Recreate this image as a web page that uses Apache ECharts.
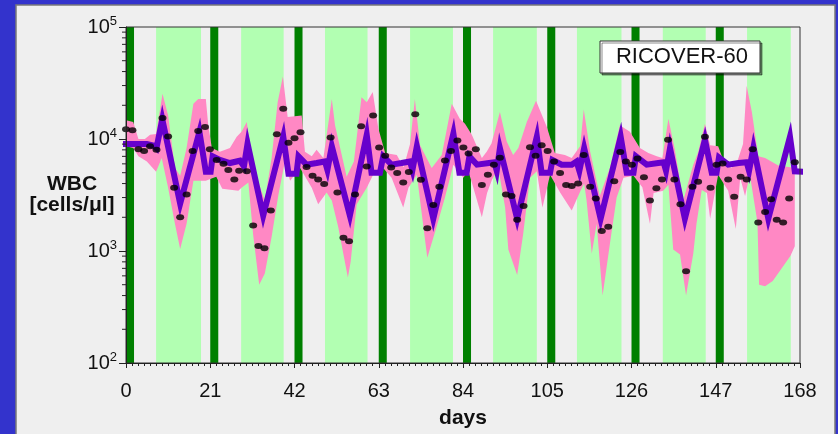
<!DOCTYPE html>
<html>
<head>
<meta charset="utf-8">
<script src="https://cdn.jsdelivr.net/npm/echarts@6.0.0/dist/echarts.min.js"></script>
<style>
  html, body { margin: 0; padding: 0; background: #3333cc; }
  #main { width: 838px; height: 434px; }
</style>
</head>
<body>
<div id="main"></div>
<script>
// therapy cycles (days)
var darkBands = [[0, 2], [21, 23], [42, 44], [63, 65], [84, 86], [105, 107], [126, 128], [147, 149]];
var lightBands = [[7.5, 18.7], [28.7, 39.3], [49.6, 60.2], [70.8, 81.5], [91.5, 102.4], [112.4, 123.5], [133.8, 144.5], [154.8, 165.7]];

// measured WBC [day, cells/ul]
var wbcPoints = [
    [0, 12200], [1.6, 12000], [3.1, 8100], [4.5, 7800], [6.0, 8600], [7.6, 8000], [9.1, 15400], [10.5, 10550],
    [12.0, 3680], [13.5, 2000], [15.1, 3200], [16.6, 7800], [18.0, 11800], [19.7, 12800], [20.9, 8100], [22.6, 6500],
    [24.3, 6000], [25.5, 5300], [27.0, 4350], [28.2, 5200],
    [30.1, 5150], [31.7, 1690], [33.0, 1110], [34.5, 1060], [36.1, 2300], [37.6, 11000], [39.2, 18600], [40.5, 9240],
    [42.0, 10140], [43.5, 11500], [45.0, 5630], [46.5, 4700], [47.9, 4350], [49.4, 3970], [51.0, 10300], [52.7, 3330],
    [54.2, 1310], [55.6, 1220],
    [57.1, 3200], [58.6, 13000], [60.0, 5680], [61.6, 16200], [63.1, 8400], [64.6, 7100], [66.1, 5570], [67.6, 4970],
    [69.1, 4090], [70.5, 5080], [72.1, 16600], [73.5, 4330], [75.1, 1600], [76.6, 2580], [78.1, 3750], [79.5, 6440],
    [81.0, 7800], [82.6, 9700], [84.1, 8400], [85.4, 7420],
    [87.2, 8100], [88.7, 3890], [90.2, 4800], [91.7, 5900], [93.2, 6800], [94.7, 3200], [96.1, 3100], [97.5, 1900],
    [99.1, 2520], [100.7, 8450], [102.1, 7100], [103.6, 8800], [105.1, 7800], [106.7, 6300], [108.2, 4970], [109.7, 3890],
    [111.1, 3800], [112.7, 4010], [114.1, 7200],
    [115.7, 3750], [117.1, 2950], [118.6, 1510], [120.2, 1650], [121.7, 4190], [123.2, 7650], [124.6, 6300], [126.1, 5900],
    [127.5, 6700], [129.1, 4550], [130.6, 2830], [132.2, 3630], [133.6, 4350], [135.1, 9850], [136.7, 4350], [138.2, 2620],
    [139.6, 660], [141.2, 3750], [142.6, 4150],
    [144.3, 10500], [145.7, 3680], [147.2, 5900], [148.7, 6050], [150.1, 4350], [151.6, 3050], [153.2, 4600], [154.7, 4350],
    [156.2, 8100], [157.6, 1800], [159.3, 2230], [160.8, 2900], [162.2, 1900], [163.8, 1800], [165.3, 2950], [166.7, 6200]
];

// model prediction (median)
var modelLine = [
    [-0.8, 9000], [5.2, 9000], [7.0, 8700], [7.6, 8300], [9.05, 15000], [13.5, 2650], [18.3, 11600], [19.9, 5100],
    [21.1, 5100], [21.6, 7000], [23.4, 6500], [25.9, 6100], [28.4, 6400], [29.4, 5700], [30.3, 9100], [34.2, 2070],
    [39.2, 10500], [40.5, 4900], [42.5, 4900], [43.0, 7000], [45.0, 5900], [47.5, 6100], [49.6, 6300], [50.2, 5300],
    [51.3, 8600], [55.8, 2070], [60.0, 10900], [61.2, 5000], [63.3, 5000], [64.1, 7000], [66.2, 5900], [68.7, 6100],
    [70.8, 6300], [71.4, 5300], [72.5, 8600], [76.6, 1940], [81.6, 11200], [83.1, 5000], [84.9, 5000], [85.6, 7000],
    [87.5, 5900], [90.5, 6100], [91.8, 6200], [92.4, 5200], [93.2, 8300], [97.5, 1940], [102.4, 10500], [103.6, 5000],
    [105.7, 5000], [106.3, 6500], [108.6, 5900], [111.1, 5900], [112.3, 6300], [113.0, 5200], [114.2, 8300], [118.3, 1940],
    [123.3, 10500], [124.8, 5000], [126.5, 5000], [127.1, 7000], [129.8, 5900], [132.7, 6100], [134.0, 6200], [134.6, 5200],
    [135.6, 8300], [139.3, 1940], [144.3, 9850], [146.0, 5000], [147.2, 5000], [147.8, 6850], [150.1, 5900], [152.7, 6100],
    [154.7, 6200], [155.3, 5200], [156.4, 8400], [160.1, 1940], [165.5, 10500], [166.7, 5150], [169.2, 5100]
];

// prediction band upper / lower limits
var bandUpper = [
    [0, 14700], [1.8, 14200], [3.1, 10000], [4.7, 10000], [6.0, 10900], [7.5, 11100], [9.1, 25300], [10.5, 16200],
    [12.2, 5500], [13.5, 4700], [15.1, 8300], [16.8, 20600], [18.0, 22800], [19.9, 22800], [20.5, 13300], [21.4, 8300],
    [23.4, 7700], [25.9, 8300], [27.6, 10500], [28.8, 11600], [30.1, 14200], [30.9, 9100], [32.6, 4500], [34.6, 2830],
    [36.3, 6760], [37.8, 21300], [39.1, 36100], [40.3, 15700], [43.8, 16200], [44.6, 7700], [46.3, 7000], [47.5, 8000],
    [49.2, 6760], [51.3, 22800], [52.1, 13300], [55.0, 4600], [56.8, 6300], [58.7, 23600], [60.0, 21300], [61.5, 26300],
    [62.9, 12400], [64.6, 7500], [67.5, 7200], [69.2, 5600], [70.8, 9000], [72.0, 22800], [73.3, 8800], [76.2, 5500],
    [78.7, 7200], [81.2, 20600], [83.2, 15200], [84.5, 13700], [86.2, 10900], [88.7, 6760], [89.9, 7700], [91.1, 9100],
    [93.2, 17400], [94.9, 9500], [96.5, 7200], [97.8, 8300], [99.9, 14200], [102.2, 22000], [104.9, 12800], [106.9, 7500],
    [109.4, 7200], [111.1, 6760], [113.2, 8600], [114.1, 18300], [115.7, 7700], [118.1, 3100], [120.6, 5500], [123.1, 13300],
    [125.6, 11600], [128.1, 8300], [130.2, 7500], [132.3, 7000], [133.7, 6760], [135.2, 15200], [136.8, 8000], [138.9, 2830],
    [141.4, 5900], [142.6, 7600], [144.3, 13700], [145.6, 8800], [147.6, 8600], [149.0, 6300], [150.9, 5500], [152.5, 6500],
    [153.8, 9000], [154.7, 29900], [156.0, 17400], [157.6, 7000], [159.3, 6760], [162.6, 5800], [166.7, 5500]
];
var bandLower = [
    [0, 8600], [1.8, 8300], [3.1, 7000], [5.2, 6300], [7.5, 5100], [8.9, 6760], [10.5, 3680], [12.2, 1750],
    [13.5, 1040], [15.1, 1750], [16.8, 4230], [19.9, 4230], [21.0, 4400], [22.5, 4600], [24.0, 3600], [28.0, 3450],
    [28.8, 3680], [30.5, 4080], [31.7, 1390], [33.2, 500], [34.6, 630], [36.3, 1340], [38.0, 3200], [39.6, 6300],
    [40.9, 4230], [43.4, 5500], [46.3, 3680], [47.9, 2620], [50.0, 3330], [51.3, 2830], [52.9, 1640], [55.3, 580],
    [56.0, 800], [57.5, 2620], [60.0, 3680], [61.6, 4800], [64.1, 5500], [66.2, 4500], [69.1, 2450], [70.4, 3680],
    [72.5, 4800], [75.1, 870], [77.4, 1640], [79.5, 3000], [81.6, 5900], [84.1, 4500], [85.3, 5200], [86.2, 4080],
    [88.7, 2000], [90.0, 3300], [91.2, 4300], [92.8, 5500], [94.5, 2450], [95.3, 1030], [97.5, 610], [99.0, 1420],
    [100.7, 4500], [102.4, 5150], [103.8, 2450], [105.7, 4800], [108.2, 3330], [111.1, 2300], [113.3, 3450], [114.2, 4000],
    [114.8, 2830], [116.1, 950], [117.3, 1750], [118.8, 400], [120.6, 1150], [122.3, 3000], [124.0, 4500], [126.5, 4700],
    [128.7, 3700], [130.6, 1750], [131.5, 3300], [133.9, 3450], [135.2, 3900], [136.4, 1030], [138.1, 930], [139.6, 400],
    [141.4, 950], [142.2, 1750], [143.5, 3500], [144.8, 3300], [145.6, 1940], [147.6, 4800], [150.1, 3450], [152.0, 1570],
    [153.1, 4500], [154.3, 3100], [155.5, 4800], [157.4, 1800], [157.8, 500], [159.3, 485], [161.2, 540], [163.8, 730],
    [165.6, 900], [166.7, 1100]
];

// axis
var xTicks = [0, 21, 42, 63, 84, 105, 126, 147, 168];
var yRange = [100, 100000];
var yMinorTicks = [200, 300, 400, 500, 600, 700, 800, 900, 2000, 3000, 4000, 5000, 6000, 7000, 8000, 9000,
    20000, 30000, 40000, 50000, 60000, 70000, 80000, 90000];

var FONT = 'Liberation Sans, Arial, sans-serif';

var chart = echarts.init(document.getElementById('main'));

function bandItems(list) {
    return list.map(function (b) { return [b[0], b[1], yRange[0], yRange[1]]; });
}

function renderBand(color) {
    return function (params, api) {
        var p0 = api.coord([api.value(0), api.value(3)]);
        var p1 = api.coord([api.value(1), api.value(2)]);
        return {
            type: 'rect',
            shape: { x: p0[0], y: p0[1], width: p1[0] - p0[0], height: p1[1] - p0[1] },
            style: { fill: color }
        };
    };
}

var option = {
    backgroundColor: '#3333cc',
    animation: false,
    grid: { left: 126, top: 27, right: 38, bottom: 66, show: true, borderColor: '#333', borderWidth: 1, backgroundColor: 'transparent', z: 10 },
    graphic: [
        { type: 'rect', z: -10, shape: { x: 16, y: 5, width: 819, height: 440 }, style: { fill: '#efefef', stroke: '#7a7a7a', lineWidth: 1.5 } },
        { type: 'text', x: 72, y: 184, style: { text: 'WBC', font: 'bold 21px ' + FONT, fill: '#111', textAlign: 'center', textVerticalAlign: 'middle' } },
        { type: 'text', x: 72, y: 205, style: { text: '[cells/μl]', font: 'bold 21px ' + FONT, fill: '#111', textAlign: 'center', textVerticalAlign: 'middle' } },
        { type: 'rect', z: 20, shape: { x: 600, y: 41, width: 160, height: 32 }, style: { fill: '#fff', stroke: '#333', lineWidth: 1, shadowColor: 'rgba(0,0,0,0.45)', shadowOffsetX: 2, shadowOffsetY: 2, shadowBlur: 0 } },
        { type: 'text', z: 21, x: 682, y: 57, style: { text: 'RICOVER-60', font: '22px ' + FONT, fill: '#111', textAlign: 'center', textVerticalAlign: 'middle' } }
    ],
    xAxis: {
        type: 'value', min: xTicks[0], max: xTicks[xTicks.length - 1], interval: 21, z: 10,
        axisLine: { show: true, lineStyle: { color: '#222', width: 1 } },
        axisTick: { show: true, length: 5, lineStyle: { color: '#222' } },
        minorTick: { show: true, splitNumber: 14, length: 3, lineStyle: { color: '#222' } },
        splitLine: { show: false },
        axisLabel: { fontSize: 20, color: '#111', margin: 18, fontFamily: FONT },
        name: 'days', nameLocation: 'middle', nameGap: 45,
        nameTextStyle: { fontSize: 21, fontWeight: 'bold', color: '#111', fontFamily: FONT }
    },
    yAxis: {
        type: 'log', logBase: 10, min: yRange[0], max: yRange[1], z: 10,
        axisLine: { show: true, lineStyle: { color: '#222', width: 1 } },
        axisTick: { show: true, length: 7, lineStyle: { color: '#222' } },
        splitLine: { show: false },
        axisLabel: {
            margin: 9, color: '#111', fontFamily: FONT,
            formatter: function (v) { return '{b|10}{s|' + Math.round(Math.log10(v)) + '}'; },
            rich: {
                b: { fontSize: 20, fontFamily: FONT, color: '#111' },
                s: { fontSize: 13, fontFamily: FONT, color: '#111', padding: [0, 0, 11, 0] }
            }
        }
    },
    series: [
        { type: 'custom', z: 1, clip: true, silent: true, data: bandItems(lightBands), encode: { x: [0, 1], y: [2, 3] }, renderItem: renderBand('#b2ffb2') },
        { type: 'custom', z: 1, clip: true, silent: true, data: bandItems(darkBands), encode: { x: [0, 1], y: [2, 3] }, renderItem: renderBand('#008000') },
        {
            type: 'custom', z: 2, clip: true, silent: true, data: bandUpper,
            renderItem: function (params, api) {
                if (params.dataIndex !== 0) return;
                var pts = [];
                bandUpper.forEach(function (p) { pts.push(api.coord(p)); });
                for (var i = bandLower.length - 1; i >= 0; i--) pts.push(api.coord(bandLower[i]));
                return { type: 'polygon', shape: { points: pts }, style: { fill: '#ff88c4' } };
            }
        },
        {
            type: 'line', z: 3, data: modelLine, showSymbol: false, clip: false, silent: true,
            lineStyle: { color: '#6600cc', width: 6, join: 'miter' }
        },
        {
            type: 'scatter', z: 4, data: wbcPoints, symbol: 'circle', symbolSize: [8, 6], silent: true,
            itemStyle: { color: '#000' }
        },
        {
            type: 'custom', z: 10, clip: false, silent: true,
            data: yMinorTicks.map(function (v) { return [0, v]; }),
            renderItem: function (params, api) {
                var p = api.coord([api.value(0), api.value(1)]);
                return { type: 'line', shape: { x1: p[0] - 4, y1: p[1], x2: p[0], y2: p[1] }, style: { stroke: '#222', lineWidth: 1 } };
            }
        }
    ]
};

chart.setOption(option);
</script>
</body>
</html>
